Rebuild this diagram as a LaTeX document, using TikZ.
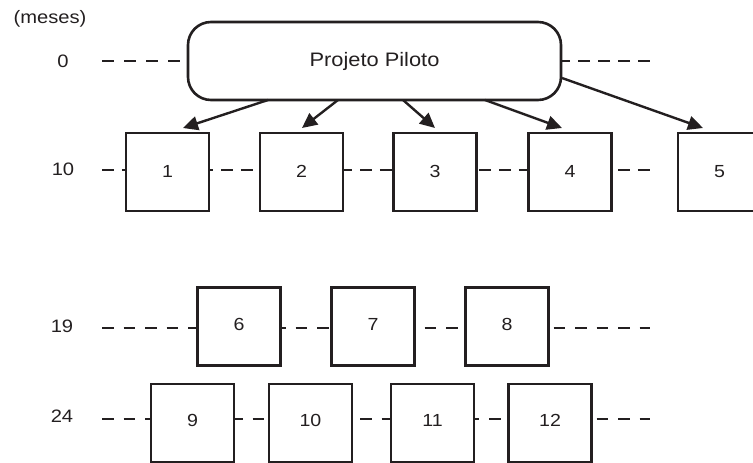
\documentclass[tikz,border=0pt]{standalone}
\usepackage{fontspec}
\setmainfont{Liberation Sans}[FakeStretch=1.12]
\usetikzlibrary{arrows.meta,calc}
\definecolor{ink}{HTML}{231F20}
\newcommand\rz[2]{\raisebox{#1pt}{#2}}
\begin{document}
\begin{tikzpicture}[x=1pt,y=-1pt,
  box/.style={draw=ink,line width=2.6pt,fill=white,minimum width=83pt,minimum height=78pt,inner sep=0pt,outer sep=0pt,font=\fontsize{17.5}{19}\selectfont,text=ink},
  pilot/.style={draw=ink,line width=2.6pt,fill=white,rounded corners=23pt,minimum width=373pt,minimum height=78pt,inner sep=0pt,outer sep=0pt,font=\fontsize{19.5}{21}\selectfont,text=ink},
  lbl/.style={font=\fontsize{18}{20}\selectfont,text=ink,inner sep=0pt},
  guide/.style={draw=ink,line width=2.8pt},
  arr/.style={draw=ink,line width=2.4pt,-{Triangle[length=15pt,width=14pt]}}]
\useasboundingbox (0,0) rectangle (753,463);
\begin{scope}
\clip (0,0) rectangle (753,463);
% labels
\node[lbl] (meses) at (50,19) {(meses)};
\node[lbl] (l0) at (63,61) {0};
\node[lbl] (l10) at (63,169) {10};
\node[lbl] (l19) at (62,326) {19};
\node[lbl] (l24) at (62,416) {24};
% guide coordinates
\coordinate (s0) at (102,61);
\coordinate (e0) at (650,61);
\coordinate (s10) at (102,170);
\coordinate (e10) at (650,170);
\coordinate (s19) at (102,328);
\coordinate (e19) at (650,328);
\coordinate (s24) at (102,419);
\coordinate (e24) at (650,419);
% guides behind boxes
\draw[guide,dash pattern=on 12pt off 7.85pt] (s10) -- (e10);
\draw[guide,dash pattern=on 11.5pt off 10pt] (s19) -- (e19);
\draw[guide,dash pattern=on 11.5pt off 10pt] (s24) -- (e24);
% nodes
\node[pilot] (pp) at (374.5,61) {Projeto Piloto};
\node[box] (b1) at (167.5,172) {\rz{2}{1}};
\node[box] (b2) at (301.5,172) {\rz{2}{2}};
\node[box] (b3) at (435,172) {\rz{2}{3}};
\node[box] (b4) at (570,172) {\rz{2}{4}};
\node[box] (b5) at (719.5,172) {\rz{2}{5}};
\node[box] (b6) at (239,326.5) {\rz{5}{6}};
\node[box] (b7) at (373,326.5) {\rz{5}{7}};
\node[box] (b8) at (507,326.5) {\rz{5}{8}};
\node[box] (b9) at (192.5,423) {\rz{5}{9}};
\node[box] (b10) at (310.5,423) {\rz{5}{10}};
\node[box] (b11) at (432.5,423) {\rz{5}{11}};
\node[box] (b12) at (550,423) {\rz{5}{12}};
% row 0 guides
\draw[guide,dash pattern=on 12pt off 10pt] (s0) -- (pp.west);
\draw[guide,dash pattern=on 12pt off 8pt,dash phase=3pt] (pp.east) -- (e0);
% arrows
\draw[arr] ($(pp.south west)+(80,0)$) -- ($(b1.north)+(15.5,-5)$);
\draw[arr] ($(pp.south west)+(150,0)$) -- ($(b2.north)+(0.5,-5)$);
\draw[arr] ($(pp.south west)+(215,0)$) -- ($(b3.north)+(0,-5)$);
\draw[arr] ($(pp.south west)+(297,0)$) -- ($(b4.north)+(-8,-5)$);
\draw[arr] ($(pp.east)+(1,17)$) -- ($(b5.north)+(-16.5,-5)$);
\end{scope}
\end{tikzpicture}
\end{document}
